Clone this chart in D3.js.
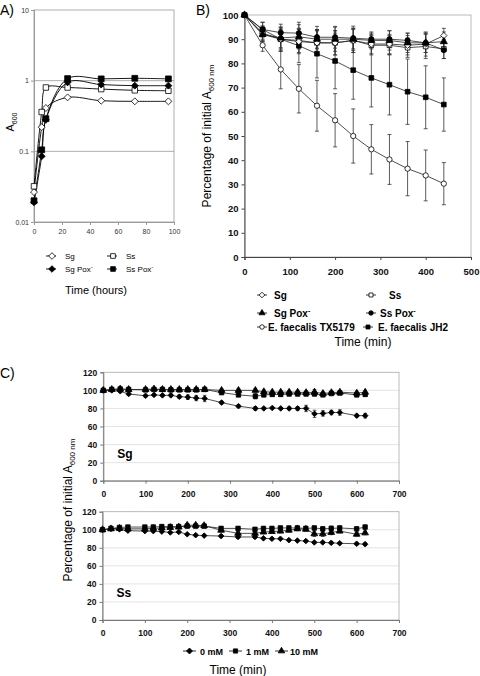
<!DOCTYPE html>
<html><head><meta charset="utf-8">
<script src="https://cdn.jsdelivr.net/npm/d3@7/dist/d3.min.js"></script>
<style>
body{margin:0;background:#fff;}
svg{font-family:"Liberation Sans",Arial,sans-serif;}
</style></head>
<body><svg id="c" width="480" height="676"></svg>
<script>
// ---------- DATA ----------
// Panel A (growth, log scale)
const aTime = [0, 5.5, 8.5, 24, 48, 72, 96];
const aSg = [0.0265, 0.22, 0.41, 0.58, 0.52, 0.51, 0.51];
const aSs = [0.032, 0.36, 0.80, 0.80, 0.76, 0.73, 0.72];
const aSgPox = [0.019, 0.085, 0.28, 0.95, 0.88, 0.85, 0.85];
const aSsPox = [0.020, 0.105, 0.29, 1.07, 1.06, 1.08, 1.06];
const aYTicks = [0.01, 0.1, 1, 10];
const aYTickLabels = ["0.01", "0.1", "1", "10"];
const aXTicks = [0, 20, 40, 60, 80, 100];

// Panel B (lysis, % of initial A600)
const bTime = [0, 40, 80, 120, 160, 200, 240, 280, 320, 360, 400, 440];
const bSg = [100, 92.5, 90, 89, 88.5, 88.5, 89.5, 88, 88, 87.5, 88, 91.5];
const bSgErr = [0, 3, 4, 5, 5, 5, 5, 4, 4, 4, 5, 3];
const bSs = [100, 92, 90, 89.5, 88.5, 88.5, 89.5, 87.5, 87.5, 86.5, 87, 86];
const bSsErr = [0, 3, 5, 5, 5, 5, 5, 4, 4, 4, 5, 4];
const bSgPox = [100, 92, 90.5, 91, 90, 90, 90, 89.5, 89.5, 88.5, 88.5, 89];
const bSgPoxErr = [0, 3, 4, 5, 4, 5, 4, 3, 4, 4, 4, 4];
const bSsPox = [100, 94, 92.7, 92.5, 90.8, 90.8, 90.4, 90, 90, 89.5, 88.5, 85.5];
const bSsPoxErr = [0, 3, 3.5, 4.5, 4.5, 4.5, 5, 3, 3.5, 3, 4, 3.5];
const bTX = [100, 87.5, 77.5, 69.5, 62.5, 56.5, 50, 44.5, 40.3, 36.5, 33.7, 30.3];
const bTXErr = [0, 2.5, 8, 10, 10.5, 11, 11.2, 10.2, 10.3, 11.2, 10.5, 8.7];
const bJH2 = [100, 94, 90, 87.3, 84, 81, 77.2, 74, 71.2, 68.3, 66, 63];
const bJH2Err = [0, 3, 5, 7, 10, 11.5, 12, 12, 12.5, 13.5, 13, 11];
const bYTicks = [0, 10, 20, 30, 40, 50, 60, 70, 80, 90, 100];
const bXTicks = [0, 100, 200, 300, 400, 500];

// Panel C (dose response)
const cTime = [0, 20, 40, 60, 100, 120, 140, 160, 180, 200, 220, 240, 280, 320, 360, 380, 400, 420, 440, 460, 480, 500, 520, 540, 560, 600, 620];
const cSg0 = [100, 100, 99, 96, 94, 95, 94.5, 94.5, 93, 92.5, 91.5, 91, 86.5, 82.5, 80, 80, 80.5, 80, 80, 80, 80, 74, 74.5, 75.5, 75.5, 72, 72];
const cSg0Err = [1, 1, 1, 1.5, 1.5, 1, 1, 1.5, 2, 2.5, 3, 3.5, 1.5, 1.5, 2, 1, 1, 1, 1.5, 2, 3.5, 4, 3, 2.5, 3, 1.5, 2.5];
const cSg1 = [100, 101, 101.5, 101, 100.5, 101, 101, 100.5, 100.5, 100.5, 100.5, 101, 97.5, 95, 93.5, 95, 95.5, 95.5, 96, 96, 96, 96, 95, 96.5, 97, 95, 95.5];
const cSg1Err = [1, 1, 1, 1, 1, 1, 1, 1, 1, 1, 1, 1, 1.5, 2, 3, 2, 2, 2, 2, 2, 2, 2, 1.5, 1.5, 1.5, 2, 2];
const cSg10 = [100, 101, 101.5, 101, 101, 101.5, 101, 101, 101, 101, 101, 101, 100, 100, 100, 98.5, 98, 98, 98, 98, 97.5, 98, 96.5, 97.5, 98, 97, 98];
const cSg10Err = [1, 1, 1, 1, 1, 1, 1, 1, 1, 1, 1, 1, 1.5, 2, 2, 2, 2, 2, 2, 2, 2, 3, 2, 1.5, 1.5, 2, 2];
const cSs0 = [100, 101, 100.5, 99, 98.5, 98.5, 98, 97, 97.5, 95, 94, 93.5, 93, 92, 92, 90.5, 90, 90, 88.5, 88, 87.5, 86, 86, 85.5, 85, 84.5, 84];
const cSs0Err = [1, 1, 1, 1, 1, 1, 1, 1, 1, 1, 1, 1, 1.5, 1.5, 1.5, 1, 1, 1, 1, 1, 1, 1, 1, 1, 1, 1.5, 1.5];
const cSs1 = [100, 101.5, 102.5, 103, 103, 103, 103.5, 103.5, 103.5, 104, 104, 104, 101.5, 101.5, 100.5, 101.5, 101.5, 102, 102, 102, 101.5, 102, 101, 101.5, 102, 101, 103];
const cSs1Err = [1, 1, 1, 1.5, 1.5, 1.5, 1.5, 1.5, 1.5, 1.5, 1.5, 1.5, 2, 2, 2, 2, 2, 2, 2, 1.5, 2, 2, 2, 2.5, 2, 2, 2];
const cSs10 = [100, 101, 101.5, 101, 101, 101.5, 102, 102.5, 103, 105, 105, 104.5, 99.5, 96, 96, 97.5, 98, 98.5, 99.5, 101, 100.5, 95.5, 95.5, 97, 98.5, 95, 96.5];
const cSs10Err = [1, 1, 1, 1, 1, 1, 1, 1, 1, 1.5, 1.5, 1.5, 2, 2, 2, 2, 2, 2, 2, 2, 2, 3, 3, 2.5, 2, 2, 2];
const cYTicks = [0, 20, 40, 60, 80, 100, 120];
const cXTicks = [0, 100, 200, 300, 400, 500, 600, 700];

// ---------- DRAW ----------
const svg = d3.select("#c");
const FONT = '"Liberation Sans",Arial,sans-serif';

// squat diamond symbol (rotated square)
const symbolRhomb = {
  draw(ctx, size) {
    const r = Math.sqrt(size / 2);
    ctx.moveTo(0, -r); ctx.lineTo(r, 0); ctx.lineTo(0, r); ctx.lineTo(-r, 0); ctx.closePath();
  }
};
function marker(g, x, y, type, filled, size, color) {
  const t = {diamond: symbolRhomb, square: d3.symbolSquare, triangle: d3.symbolTriangle, circle: d3.symbolCircle}[type];
  g.append("path").attr("d", d3.symbol().type(t).size(size)())
    .attr("transform", `translate(${x},${y})`)
    .attr("fill", filled ? (color||"#000") : "#fff")
    .attr("stroke", color||"#000").attr("stroke-width", 0.8);
}
function errBars(g, xs, ys, es, x, y, cap, color) {
  xs.forEach((t, i) => {
    if (!es[i]) return;
    const xx = x(t), y1 = y(ys[i] - es[i]), y2 = y(ys[i] + es[i]);
    g.append("line").attr("x1", xx).attr("x2", xx).attr("y1", y1).attr("y2", y2).attr("stroke", color).attr("stroke-width", 0.8);
    [y1, y2].forEach(yy => g.append("line").attr("x1", xx - cap).attr("x2", xx + cap).attr("y1", yy).attr("y2", yy).attr("stroke", color).attr("stroke-width", 0.8));
  });
}

// ===== Panel A =====
{
  const x = d3.scaleLinear().domain([0, 100]).range([34, 174]);
  const y = d3.scaleLog().domain([0.01, 10]).range([222, 10]);
  const g = svg.append("g");
  g.selectAll("line.grid").data([0.1, 1]).enter().append("line")
    .attr("x1", 34).attr("x2", 174).attr("y1", d => y(d)).attr("y2", d => y(d))
    .attr("stroke", "#999").attr("stroke-width", 0.8);
  g.append("rect").attr("x", 34).attr("y", 10).attr("width", 140).attr("height", 212)
    .attr("fill", "none").attr("stroke", "#999").attr("stroke-width", 0.8);
  const ya = g.append("g").attr("transform", "translate(34,0)")
    .call(d3.axisLeft(y).tickValues(aYTicks).tickFormat((d, i) => aYTickLabels[i]).tickSize(3).tickPadding(2));
  const xa = g.append("g").attr("transform", "translate(0,222)")
    .call(d3.axisBottom(x).tickValues(aXTicks).tickSize(3).tickPadding(4));
  [ya, xa].forEach(a => { a.select(".domain").attr("stroke", "#999"); a.selectAll(".tick line").attr("stroke", "#999");
    a.selectAll("text").attr("font-family", FONT).attr("font-size", 7).attr("fill", "#333"); });
  const series = [
    {v: aSg, t: "diamond", f: false, s: 24},
    {v: aSs, t: "square", f: false, s: 30},
    {v: aSgPox, t: "diamond", f: true, s: 24},
    {v: aSsPox, t: "square", f: true, s: 34},
  ];
  const line = d3.line().x((d, i) => x(aTime[i])).y(d => y(d)).curve(d3.curveCatmullRom.alpha(0.5));
  series.forEach(s => g.append("path").attr("d", line(s.v)).attr("fill", "none").attr("stroke", "#000").attr("stroke-width", 0.9));
  series.forEach(s => s.v.forEach((v, i) => marker(g, x(aTime[i]), y(v), s.t, s.f, s.s)));
  g.append("text").attr("x", 0).attr("y", 15).attr("font-size", 14).text("A)");
  const yl = g.append("text").attr("transform", "translate(14,122) rotate(-90)").attr("text-anchor", "middle").attr("font-size", 11);
  yl.append("tspan").text("A");
  yl.append("tspan").attr("font-size", 7).attr("dy", 3).text("600");
  const leg = [
    {x: 46, y: 256, t: "diamond", f: false, label: "Sg", sup: ""},
    {x: 107, y: 256, t: "square", f: false, label: "Ss", sup: ""},
    {x: 46, y: 269, t: "diamond", f: true, label: "Sg Pox", sup: "-"},
    {x: 107, y: 269, t: "square", f: true, label: "Ss Pox", sup: "-"},
  ];
  leg.forEach(l => {
    g.append("line").attr("x1", l.x).attr("x2", l.x + 10).attr("y1", l.y).attr("y2", l.y).attr("stroke", "#000").attr("stroke-width", 0.9);
    marker(g, l.x + 6, l.y, l.t, l.f, 22);
    const tx = g.append("text").attr("x", l.x + 19).attr("y", l.y + 3).attr("font-size", 8).text(l.label);
    if (l.sup) tx.append("tspan").attr("dy", -3).attr("font-size", 6).text(l.sup);
  });
  g.append("text").attr("x", 96).attr("y", 294).attr("text-anchor", "middle").attr("font-size", 11).text("Time (hours)");
}

// ===== Panel B =====
{
  const x = d3.scaleLinear().domain([0, 500]).range([244.5, 471]);
  const y = d3.scaleLinear().domain([0, 100]).range([257, 15]);
  const g = svg.append("g");
  g.append("rect").attr("x", 244.5).attr("y", 15).attr("width", 226.5).attr("height", 242)
    .attr("fill", "none").attr("stroke", "#aaa").attr("stroke-width", 0.8);
  const ya = g.append("g").attr("transform", "translate(244.5,0)")
    .call(d3.axisLeft(y).tickValues(bYTicks).tickSize(3).tickPadding(3));
  const xa = g.append("g").attr("transform", "translate(0,257)")
    .call(d3.axisBottom(x).tickValues(bXTicks).tickSize(3).tickPadding(8));
  [ya, xa].forEach(a => { a.select(".domain").attr("stroke", "#444"); a.selectAll(".tick line").attr("stroke", "#444");
    a.selectAll("text").attr("font-family", FONT).attr("font-size", 9.5).attr("font-weight", "bold").attr("fill", "#111"); });
  const series = [
    {v: bTX, e: bTXErr, t: "circle", f: false, s: 22},
    {v: bJH2, e: bJH2Err, t: "square", f: true, s: 22},
    {v: bSs, e: bSsErr, t: "square", f: false, s: 22},
    {v: bSg, e: bSgErr, t: "diamond", f: false, s: 20},
    {v: bSgPox, e: bSgPoxErr, t: "triangle", f: true, s: 22},
    {v: bSsPox, e: bSsPoxErr, t: "circle", f: true, s: 22},
  ];
  series.forEach(s => errBars(g, bTime, s.v, s.e, x, y, 2, "#333"));
  const line = d3.line().x((d, i) => x(bTime[i])).y(d => y(d));
  series.forEach(s => g.append("path").attr("d", line(s.v)).attr("fill", "none").attr("stroke", "#222").attr("stroke-width", 0.8));
  series.forEach(s => s.v.forEach((v, i) => marker(g, x(bTime[i]), y(v), s.t, s.f, s.s)));
  g.append("text").attr("x", 196).attr("y", 15).attr("font-size", 14).text("B)");
  const yl = g.append("text").attr("transform", "translate(211,136) rotate(-90)").attr("text-anchor", "middle").attr("font-size", 12);
  yl.append("tspan").text("Percentage of initial A");
  yl.append("tspan").attr("font-size", 8).attr("dy", 3).text("600 nm");
  const leg = [
    {x: 257, y: 295, t: "diamond", f: false, label: "Sg", sup: "", tx: 274},
    {x: 366, y: 295, t: "square", f: false, label: "Ss", sup: "", tx: 389},
    {x: 257, y: 313, t: "triangle", f: true, label: "Sg Pox", sup: "-", tx: 274},
    {x: 366, y: 313, t: "circle", f: true, label: "Ss Pox", sup: "-", tx: 380},
    {x: 257, y: 327, t: "circle", f: false, label: "E. faecalis TX5179", sup: "", tx: 268},
    {x: 363, y: 327, t: "square", f: true, label: "E. faecalis JH2", sup: "", tx: 378},
  ];
  leg.forEach(l => {
    g.append("line").attr("x1", l.x).attr("x2", l.x + 10).attr("y1", l.y).attr("y2", l.y).attr("stroke", "#000").attr("stroke-width", 0.8);
    marker(g, l.x + 5, l.y, l.t, l.f, 16);
    const tx = g.append("text").attr("x", l.tx).attr("y", l.y + 3.5).attr("font-size", 10).attr("font-weight", "bold").text(l.label);
    if (l.sup) tx.append("tspan").attr("dy", -4).attr("font-size", 7).text(l.sup);
  });
  g.append("text").attr("x", 363).attr("y", 346).attr("text-anchor", "middle").attr("font-size", 12).text("Time (min)");
}

// ===== Panel C =====
function panelC(top, bottom, left, sets, label) {
  const x = d3.scaleLinear().domain([0, 700]).range([left, 399]);
  const y = d3.scaleLinear().domain([0, 120]).range([bottom, top]);
  const g = svg.append("g");
  g.selectAll("line.grid").data(cYTicks.filter(d => d > 0 && d < 120)).enter().append("line")
    .attr("x1", left).attr("x2", 399).attr("y1", d => y(d)).attr("y2", d => y(d))
    .attr("stroke", "#ddd").attr("stroke-width", 0.8);
  g.append("rect").attr("x", left).attr("y", top).attr("width", 399 - left).attr("height", bottom - top)
    .attr("fill", "none").attr("stroke", "#aaa").attr("stroke-width", 0.8);
  const ya = g.append("g").attr("transform", `translate(${left},0)`)
    .call(d3.axisLeft(y).tickValues(cYTicks).tickSize(3).tickPadding(3));
  const xa = g.append("g").attr("transform", `translate(0,${bottom})`)
    .call(d3.axisBottom(x).tickValues(cXTicks).tickSize(3).tickPadding(7));
  [ya, xa].forEach(a => { a.select(".domain").attr("stroke", "#777"); a.selectAll(".tick line").attr("stroke", "#777");
    a.selectAll("text").attr("font-family", FONT).attr("font-size", 8.5).attr("font-weight", "bold").attr("fill", "#111"); });
  sets.forEach(s => errBars(g, cTime, s.v, s.e, x, y, 1.8, "#333"));
  const line = d3.line().x((d, i) => x(cTime[i])).y(d => y(d));
  sets.forEach(s => g.append("path").attr("d", line(s.v)).attr("fill", "none").attr("stroke", "#222").attr("stroke-width", 0.8));
  sets.forEach(s => s.v.forEach((v, i) => marker(g, x(cTime[i]), y(v), s.t, true, s.s)));
  g.append("text").attr("x", left + 14).attr("y", y(25)).attr("font-size", 12).attr("font-weight", "bold").text(label);
}
panelC(372.3, 480.7, 103.3, [
  {v: cSg10, e: cSg10Err, t: "triangle", s: 20},
  {v: cSg1, e: cSg1Err, t: "square", s: 20},
  {v: cSg0, e: cSg0Err, t: "diamond", s: 16},
], "Sg");
panelC(511.7, 620, 102.5, [
  {v: cSs10, e: cSs10Err, t: "triangle", s: 20},
  {v: cSs1, e: cSs1Err, t: "square", s: 20},
  {v: cSs0, e: cSs0Err, t: "diamond", s: 16},
], "Ss");
{
  const g = svg.append("g");
  g.append("text").attr("x", 0).attr("y", 378).attr("font-size", 14).text("C)");
  const yl = g.append("text").attr("transform", "translate(72,510) rotate(-90)").attr("text-anchor", "middle").attr("font-size", 12);
  yl.append("tspan").text("Percentage of initial A");
  yl.append("tspan").attr("font-size", 8).attr("dy", 3).text("600 nm");
  const leg = [
    {x: 183, t: "diamond", label: "0  mM", tx: 200},
    {x: 229, t: "square", label: "1 mM", tx: 246},
    {x: 275, t: "triangle", label: "10 mM", tx: 290},
  ];
  leg.forEach(l => {
    g.append("line").attr("x1", l.x).attr("x2", l.x + 13).attr("y1", 651).attr("y2", 651).attr("stroke", "#000").attr("stroke-width", 0.8);
    marker(g, l.x + 6.5, 651, l.t, true, 18);
    g.append("text").attr("x", l.tx).attr("y", 654.5).attr("font-size", 9).attr("font-weight", "bold").text(l.label);
  });
  g.append("text").attr("x", 238).attr("y", 674).attr("text-anchor", "middle").attr("font-size", 12).text("Time (min)");
}
</script></body></html>
